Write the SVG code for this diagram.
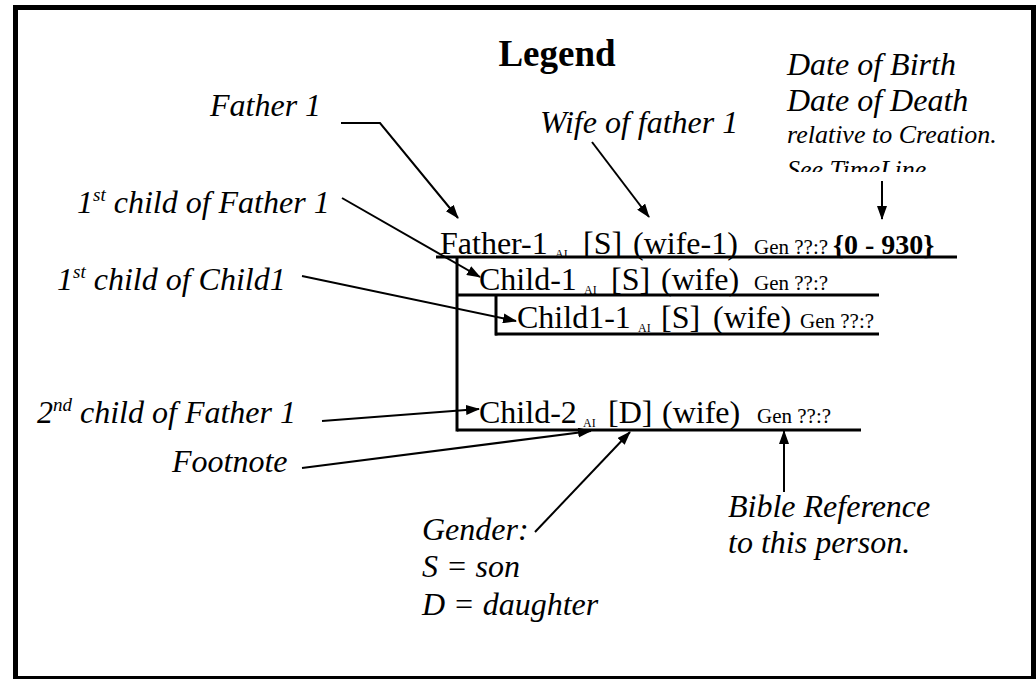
<svg xmlns="http://www.w3.org/2000/svg" width="1036" height="679" viewBox="0 0 1036 679">
<style>
.lbl{font-family:"Liberation Serif","Times New Roman",serif;font-style:italic;font-size:32px;fill:#000}
.sm{font-size:26px}
.sup{font-size:19px}
.tr{font-family:"Liberation Serif","Times New Roman",serif;font-size:32px;fill:#000}
.ai{font-size:12px}
.gen{font-size:21px}
.yrs{font-size:28px;font-weight:bold}
.title{font-family:"Liberation Serif","Times New Roman",serif;font-size:37px;font-weight:bold;fill:#000}
.tl{stroke:#000;stroke-width:3;fill:none}
.c{stroke:#000;stroke-width:2;fill:none;marker-end:url(#ah)}
</style>
<defs>
<marker id="ah" markerUnits="userSpaceOnUse" markerWidth="14" markerHeight="10" refX="13" refY="5" orient="auto">
<path d="M0,0 L14,5 L0,10 Z" fill="#000"/>
</marker>
<clipPath id="clipTL"><rect x="760" y="118" width="270" height="54"/></clipPath>
</defs>
<rect x="0" y="0" width="1036" height="679" fill="#fff"/>
<rect x="15.5" y="7.5" width="1018" height="671" fill="none" stroke="#000" stroke-width="5"/>

<text class="title" x="557" y="66" text-anchor="middle">Legend</text>

<g id="date-note">
<text class="lbl" x="787" y="75">Date of Birth</text>
<text class="lbl" x="787" y="110.5">Date of Death</text>
<g clip-path="url(#clipTL)">
<text class="lbl sm" x="787" y="143">relative to Creation.</text>
<text class="lbl sm" x="787" y="178">See TimeLine</text>
</g>
</g>

<g id="father-label"><text class="lbl" x="210" y="116">Father 1</text></g>
<g id="wife-label"><text class="lbl" x="540" y="133">Wife of father 1</text></g>
<g id="child1-label"><text class="lbl" x="77" y="213">1<tspan class="sup" dy="-12">st</tspan><tspan dy="12"> child of Father 1</tspan></text></g>
<g id="child11-label"><text class="lbl" x="57" y="290">1<tspan class="sup" dy="-12">st</tspan><tspan dy="12"> child of Child1</tspan></text></g>
<g id="child2-label"><text class="lbl" x="37" y="423">2<tspan class="sup" dy="-12">nd</tspan><tspan dy="12"> child of Father 1</tspan></text></g>
<g id="footnote-label"><text class="lbl" x="172" y="472">Footnote</text></g>
<g id="gender-label">
<text class="lbl" x="422" y="540">Gender:</text>
<text class="lbl" x="422" y="577">S = son</text>
<text class="lbl" x="422" y="615">D = daughter</text>
</g>
<g id="bible-label">
<text class="lbl" x="728" y="517">Bible Reference</text>
<text class="lbl" x="728" y="553">to this person.</text>
</g>

<g id="father-1">
<text class="tr" y="254"><tspan x="440">Father-1</tspan><tspan class="ai" x="555" y="258">AI</tspan><tspan x="583" y="254">[S]</tspan><tspan x="633">(wife-1)</tspan><tspan class="gen" x="754">Gen ??:?</tspan><tspan class="yrs" x="833">{0 - 930}</tspan></text>
<line class="tl" x1="436" y1="257" x2="957" y2="257"/>
</g>
<g id="child-1">
<text class="tr" y="290"><tspan x="479">Child-1</tspan><tspan class="ai" x="584" y="294">AI</tspan><tspan x="611" y="290">[S]</tspan><tspan x="661">(wife)</tspan><tspan class="gen" x="754">Gen ??:?</tspan></text>
<line class="tl" x1="457" y1="295" x2="879" y2="295"/>
</g>
<g id="child1-1">
<text class="tr" y="328"><tspan x="517">Child1-1</tspan><tspan class="ai" x="638" y="332">AI</tspan><tspan x="661" y="328">[S]</tspan><tspan x="713">(wife)</tspan><tspan class="gen" x="800">Gen ??:?</tspan></text>
<line class="tl" x1="495" y1="334" x2="879" y2="334"/>
</g>
<g id="child-2">
<text class="tr" y="423"><tspan x="479">Child-2</tspan><tspan class="ai" x="583" y="427">AI</tspan><tspan x="608" y="423">[D]</tspan><tspan x="662">(wife)</tspan><tspan class="gen" x="757">Gen ??:?</tspan></text>
<line class="tl" x1="457" y1="430" x2="861" y2="430"/>
</g>

<g id="tree-lines">
<line class="tl" x1="457" y1="257" x2="457" y2="431.5"/>
<line class="tl" x1="496" y1="295" x2="496" y2="335.5"/>
</g>

<g id="connectors">
<polyline class="c" points="341,123 380,123 458,218"/>
<line class="c" x1="592" y1="142" x2="649" y2="217"/>
<line class="c" x1="882" y1="181" x2="882" y2="219"/>
<line class="c" x1="342" y1="198" x2="480" y2="277"/>
<line class="c" x1="302" y1="276" x2="516" y2="321" stroke-width="3"/>
<line class="c" x1="322" y1="421" x2="479" y2="409"/>
<line class="c" x1="302" y1="468" x2="591" y2="431"/>
<line class="c" x1="535" y1="532" x2="630" y2="432"/>
<line class="c" x1="784" y1="492" x2="784" y2="431"/>
</g>
</svg>
